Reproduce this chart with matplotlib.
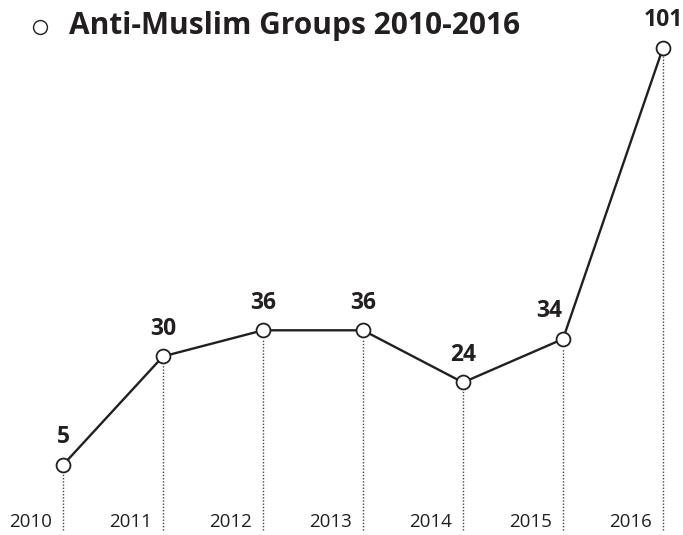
import matplotlib.pyplot as plt

# ── Data ──────────────────────────────────────────────────────────────────────
years  = ["2010", "2011", "2012", "2013", "2014", "2015", "2016"]
groups = [5, 30, 36, 36, 24, 34, 101]
TITLE  = "Anti-Muslim Groups 2010-2016"

INK = "#231f20"
plt.rcParams["font.family"] = ["Open Sans", "DejaVu Sans"]

# ── Figure: axes fill the canvas, no frame ───────────────────────────────────
fig = plt.figure(figsize=(6.83, 5.35), dpi=100)
ax = fig.add_axes([0, 0, 1, 1])
ax.set_xlim(-0.63, 6.2)
ax.set_ylim(-11.1, 112.0)
ax.axis("off")

xs = list(range(len(years)))

# dotted drop lines from each point to the bottom
for x, v in zip(xs, groups):
    ax.plot([x, x], [-10, v - 2], color="#444444", lw=1.0, ls=(0, (1, 1.3)), zorder=1)

ax.plot(xs, groups, color=INK, lw=1.7, zorder=2)
ax.plot(xs, groups, ls="none", marker="o", ms=10, mfc="white", mec=INK, mew=1.3, zorder=3)

# value labels
for x, v in zip(xs, groups):
    dx = -0.14 if x == 5 else 0
    ax.annotate(str(v), (x + dx, v), xytext=(0, 20), textcoords="offset points",
                ha="center", va="center", fontsize=16.5, fontweight="bold", color=INK)

# year labels, right-aligned just left of each drop line
for x, y in zip(xs, years):
    ax.text(x - 0.11, -8.1, y, ha="right", va="center", fontsize=13.5, color=INK)

# title with hollow circle
ax.plot([0.059], [0.95], transform=ax.transAxes, marker="o", ms=10, mfc="white",
        mec=INK, mew=1.0, clip_on=False)
ax.text(0.101, 0.952, TITLE, transform=ax.transAxes, ha="left", va="center",
        fontsize=21.5, fontweight="bold", color=INK)

fig.savefig("out.png", dpi=100)
